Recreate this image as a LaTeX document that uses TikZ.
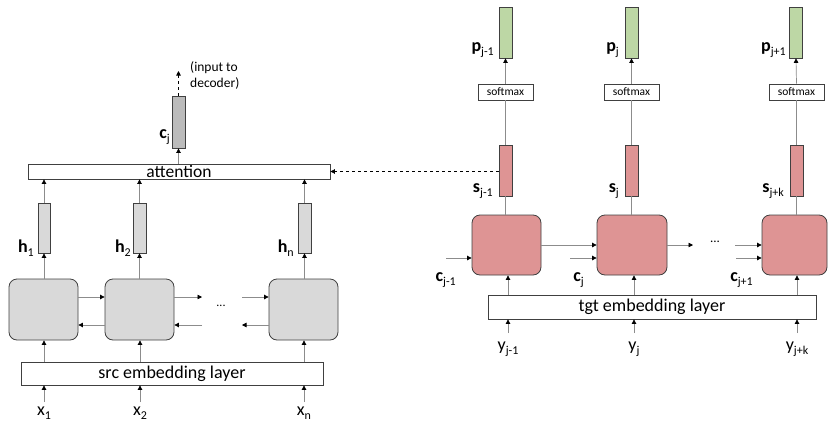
\documentclass[tikz,border=0pt]{standalone}
\usepackage{fontspec}
\setmainfont{Carlito}
\usetikzlibrary{arrows.meta}
\definecolor{graybox}{HTML}{D9D9D9}
\definecolor{graydark}{HTML}{BBBBBB}
\definecolor{pinkbox}{HTML}{DE9494}
\definecolor{greenbar}{HTML}{BDD7A5}
\newcommand{\bsub}[2]{\textbf{#1}\raisebox{-4pt}{\fontsize{12}{12}\selectfont #2}}
\newcommand{\nsub}[2]{#1\raisebox{-4pt}{\fontsize{12}{12}\selectfont #2}}
\begin{document}
\begin{tikzpicture}[x=1pt,y=-1pt,
  bx/.style={draw=black!75, line width=0.8pt, inner sep=0pt},
  bar/.style={bx, minimum width=13pt, minimum height=51pt},
  rnn/.style={bx, rounded corners=8pt, minimum width=69pt, minimum height=61pt},
  emb/.style={bx, fill=white, font=\fontsize{18}{18}\selectfont},
  smx/.style={bx, fill=white, minimum width=55pt, minimum height=16pt, font=\fontsize{11.5}{11.5}\selectfont},
  arr/.style={draw=black!45, line width=0.7pt, -{Triangle[length=4.5pt,width=4.5pt,color=black]}},
  ln/.style={draw=black!45, line width=0.7pt},
  darr/.style={draw=black, line width=0.7pt, dashed, -{Triangle[length=4.5pt,width=4.5pt,color=black]}},
  lbl/.style={font=\fontsize{18}{18}\selectfont, inner sep=0pt},
  dots/.style={font=\fontsize{12}{12}\selectfont, inner sep=0pt}]
\useasboundingbox (0,0) rectangle (828,429);

% ---------------- left: encoder ----------------
\node[bx, fill=white, minimum width=302pt, minimum height=15pt, font=\fontsize{17.5}{17.5}\selectfont] (att) at (179,171.5) {attention};
\node[bar, fill=graydark, minimum height=52pt] (cj) at (178.5,122) {};
\coordinate (dec) at (178.5,71);
\node[font=\fontsize{13.5}{16}\selectfont, align=left, anchor=west, inner sep=0pt] (dectxt) at (190,75) {(input to\\decoder)};
\node[lbl, anchor=base east] (cjl) at (170,138) {\bsub{c}{j}};

\node[bar, fill=graybox, minimum width=12pt, minimum height=50pt] (h1) at (44,228) {};
\node[bar, fill=graybox, minimum height=50pt] (h2) at (139.5,228) {};
\node[bar, fill=graybox, minimum height=50pt] (hn) at (304.5,228) {};
\node[lbl, anchor=base east] (h1l) at (34,252) {\bsub{h}{1}};
\node[lbl, anchor=base east] (h2l) at (131,252) {\bsub{h}{2}};
\node[lbl, anchor=base east] (hnl) at (294,252) {\bsub{h}{n}};

\node[rnn, fill=graybox] (b1) at (43.5,309.5) {};
\node[rnn, fill=graybox] (b2) at (139.5,309.5) {};
\node[rnn, fill=graybox] (b3) at (303.5,309.5) {};
\node[dots] (ldots) at (221,306) {...};

\node[emb, minimum width=302pt, minimum height=23pt] (src) at (172,373.5) {src embedding layer};
\node[lbl, anchor=base] (x1) at (44,415) {\nsub{x}{1}};
\node[lbl, anchor=base] (x2) at (140,415) {\nsub{x}{2}};
\node[lbl, anchor=base] (xn) at (304,415) {\nsub{x}{n}};
\coordinate (x1a) at (44,402);
\coordinate (x2a) at (140,402);
\coordinate (xna) at (304,402);

\coordinate (f1) at (202,297);
\coordinate (f2) at (242,297);
\coordinate (r1) at (202,325);
\coordinate (r2) at (242,325);

% connectors left
\draw[arr] (att.north -| cj.south) -- (cj.south);
\draw[darr] (cj.north) -- (dec);
\foreach \h/\b in {h1/b1,h2/b2,hn/b3}{
  \draw[arr] (\h.south |- \b.north) -- (\h.south);
  \draw[arr] (\h.north) -- (\h.north |- att.south);
}
\draw[arr] (b1.east |- f1) -- (b2.west |- f1);
\draw[arr] (b2.east |- f1) -- (f1);
\draw[arr] (f2) -- (b3.west |- f2);
\draw[arr] (b2.west |- r1) -- (b1.east |- r1);
\draw[arr] (r1) -- (b2.east |- r1);
\draw[arr] (b3.west |- r2) -- (r2);
\foreach \xa/\b in {x1a/b1,x2a/b2,xna/b3}{
  \draw[arr] (\xa |- src.north) -- (\xa |- \b.south);
  \draw[arr] (\xa) -- (\xa |- src.south);
}

% ---------------- right: decoder ----------------
\node[bar, fill=greenbar] (p1) at (505.5,32.5) {};
\node[bar, fill=greenbar] (p2) at (631.5,32.5) {};
\node[bar, fill=greenbar] (p3) at (796,32.5) {};
\node[lbl, anchor=base east] (p1l) at (494,51) {\bsub{p}{j-1}};
\node[lbl, anchor=base east] (p2l) at (619,51) {\bsub{p}{j}};
\node[lbl, anchor=base east] (p3l) at (786,51) {\bsub{p}{j+1}};

\node[smx] (sm1) at (505.5,92) {softmax};
\node[smx] (sm2) at (631.5,92) {softmax};
\node[smx] (sm3) at (796.5,92) {softmax};

\node[bar, fill=pinkbox] (s1) at (505.5,170.5) {};
\node[bar, fill=pinkbox] (s2) at (631.5,170.5) {};
\node[bar, fill=pinkbox] (s3) at (796.5,170.5) {};
\node[lbl, anchor=base east] (s1l) at (493,192) {\bsub{s}{j-1}};
\node[lbl, anchor=base east] (s2l) at (619,192) {\bsub{s}{j}};
\node[lbl, anchor=base east] (s3l) at (784,192) {\bsub{s}{j+k}};

\node[rnn, fill=pinkbox, minimum height=60pt] (d1) at (506.5,245) {};
\node[rnn, fill=pinkbox, minimum height=60pt, minimum width=70pt] (d2) at (632,245) {};
\node[rnn, fill=pinkbox, minimum height=60pt, minimum width=65pt] (d3) at (794.5,245) {};
\node[dots, font=\fontsize{13}{13}\selectfont] (rdots) at (715,242) {...};
\coordinate (g1) at (693,245);
\coordinate (g2) at (735,245);

\node[lbl, anchor=base east] (c1l) at (456,281) {\bsub{c}{j-1}};
\node[lbl, anchor=base east] (c2l) at (584,281) {\bsub{c}{j}};
\node[lbl, anchor=base east] (c3l) at (753,281) {\bsub{c}{j+1}};
\coordinate (c1a) at (446,258);
\coordinate (c2a) at (570,258);
\coordinate (c3a) at (736,258);

\node[emb, minimum width=328pt, minimum height=24pt] (tgt) at (652,307) {tgt embedding layer};
\node[lbl, anchor=base] (y1) at (508,350) {\nsub{y}{j-1}};
\node[lbl, anchor=base] (y2) at (634,350) {\nsub{y}{j}};
\node[lbl, anchor=base] (y3) at (797,350) {\nsub{y}{j+k}};
\coordinate (y1a) at (508,333);
\coordinate (y2a) at (634,333);
\coordinate (y3a) at (797,333);

% connectors right
\foreach \p/\m/\s/\d in {p1/sm1/s1/d1,p2/sm2/s2/d2,p3/sm3/s3/d3}{
  \draw[arr] (\m.north) -- (\p.south);
  \draw[ln] (\s.north) -- (\m.south);
  \draw[ln] (\s.south |- \d.north) -- (\s.south);
}
\draw[darr] (s1.west |- att.east) -- (att.east);
\draw[arr] (d1.east) -- (d2.west);
\draw[arr] (d2.east) -- (g1);
\draw[arr] (g2) -- (d3.west);
\draw[arr] (c1a) -- (d1.west |- c1a);
\draw[arr] (c2a) -- (d2.west |- c2a);
\draw[arr] (c3a) -- (d3.west |- c3a);
\foreach \ya/\d in {y1a/d1,y2a/d2,y3a/d3}{
  \draw[arr] (\ya |- tgt.north) -- (\ya |- \d.south);
  \draw[arr] (\ya) -- (\ya |- tgt.south);
}
\end{tikzpicture}
\end{document}
